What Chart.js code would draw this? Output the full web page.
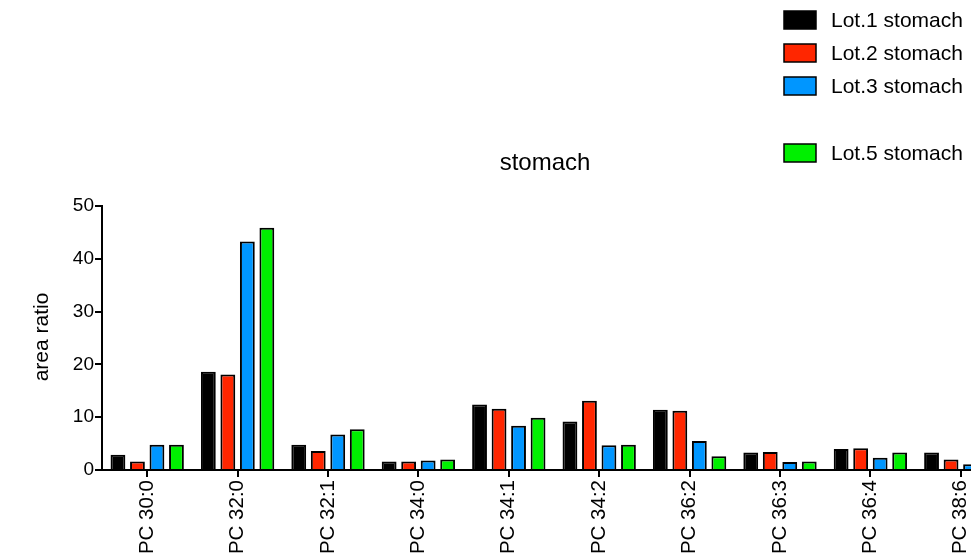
<!DOCTYPE html>
<html>
<head>
<meta charset="utf-8">
<script src="https://cdn.jsdelivr.net/npm/chart.js@4"></script>
<style>
  html, body { margin: 0; padding: 0; background: #fff; overflow: hidden; }
  #wrap { width: 1100px; height: 553px; }
</style>
</head>
<body>
<div id="wrap"><canvas id="stomachChart" width="1100" height="553"></canvas></div>
<script>
const categories = ['PC 30:0', 'PC 32:0', 'PC 32:1', 'PC 34:0', 'PC 34:1', 'PC 34:2', 'PC 36:2', 'PC 36:3', 'PC 36:4', 'PC 38:6'];
const lot1 = [2.9, 18.6, 4.8, 1.6, 12.4, 9.2, 11.4, 3.3, 4.0, 3.3];
const lot2 = [1.6, 18.1, 3.6, 1.6, 11.6, 13.1, 11.2, 3.4, 4.1, 2.0];
const lot3 = [4.8, 43.3, 6.7, 1.8, 8.4, 4.7, 5.5, 1.5, 2.3, 1.1];
const lot5 = [4.8, 45.9, 7.7, 2.0, 9.9, 4.8, 2.6, 1.6, 3.3, 1.0];
const seriesNames = ['Lot.1 stomach', 'Lot.2 stomach', 'Lot.3 stomach', 'Lot.5 stomach'];
const yTicks = [0, 10, 20, 30, 40, 50];

const FONT = '"Liberation Sans", Arial, sans-serif';
const colors = ['#000000', '#ff2600', '#0096ff', '#00f000'];

// legend + title + y axis title drawn by hand (legend has a gap where Lot.4 would be)
const extras = {
  id: 'extras',
  afterDraw(chart) {
    const ctx = chart.ctx;
    ctx.save();
    const rows = [20, 53, 86, 153];
    ctx.font = '21px ' + FONT;
    ctx.textBaseline = 'middle';
    ctx.textAlign = 'left';
    chart.data.datasets.forEach((ds, i) => {
      ctx.fillStyle = ds.backgroundColor;
      ctx.fillRect(784, rows[i] - 9, 32, 18);
      ctx.strokeStyle = '#000';
      ctx.lineWidth = 1.5;
      ctx.strokeRect(784, rows[i] - 9, 32, 18);
      ctx.fillStyle = '#000';
      ctx.fillText(ds.label, 831, rows[i] + 1);
    });

    ctx.font = '24px ' + FONT;
    ctx.textAlign = 'center';
    ctx.fillText('stomach', 545, 163);

    ctx.font = '21px ' + FONT;
    ctx.translate(42, 337);
    ctx.rotate(-Math.PI / 2);
    ctx.fillText('area ratio', 0, 0);
    ctx.restore();
  }
};

const ctx = document.getElementById('stomachChart').getContext('2d');
new Chart(ctx, {
  type: 'bar',
  data: {
    labels: categories,
    datasets: [lot1, lot2, lot3, lot5].map((vals, i) => ({
      label: seriesNames[i],
      data: vals,
      backgroundColor: colors[i],
      borderColor: '#000',
      borderWidth: 2,
      categoryPercentage: 0.863,
      barPercentage: 0.76,
    })),
  },
  options: {
    responsive: false,
    animation: false,
    layout: { padding: { top: 206, right: 94, left: 0, bottom: 0 } },
    plugins: {
      legend: { display: false },
      tooltip: { enabled: false },
    },
    scales: {
      x: {
        afterFit(scale) { scale.height = 83; },
        grid: { offset: false, drawOnChartArea: false, drawTicks: true, tickLength: 7, color: '#000', lineWidth: 2 },
        border: { color: '#000', width: 2 },
        ticks: {
          color: '#000',
          font: { family: FONT, size: 20.5 },
          minRotation: 90,
          maxRotation: 90,
          padding: 3,
          autoSkip: false,
        },
      },
      y: {
        min: 0,
        max: 50,
        afterFit(scale) { scale.width = 102; },
        afterBuildTicks(scale) { scale.ticks = yTicks.map(v => ({ value: v })); },
        grid: { drawOnChartArea: false, drawTicks: true, tickLength: 7, color: '#000', lineWidth: 2 },
        border: { color: '#000', width: 2 },
        ticks: {
          color: '#000',
          font: { family: FONT, size: 19 },
          padding: 1,
        },
      },
    },
  },
  plugins: [extras],
});
</script>
</body>
</html>
